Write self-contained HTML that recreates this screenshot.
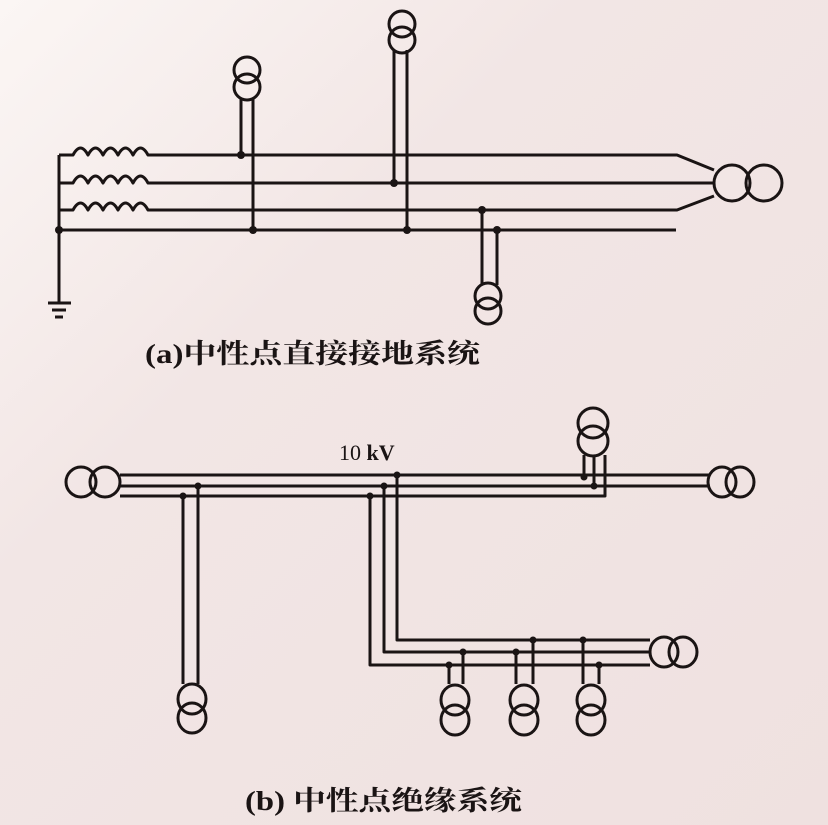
<!DOCTYPE html>
<html><head><meta charset="utf-8"><style>
html,body{margin:0;padding:0;}
body{width:828px;height:825px;background:#f1e4e3;overflow:hidden;}
svg{display:block}
text{fill:#1a1414}
</style></head><body>
<svg width="828" height="825" viewBox="0 0 828 825" xmlns="http://www.w3.org/2000/svg">
<defs>
<linearGradient id="bg" x1="0" y1="0" x2="1" y2="1">
<stop offset="0" stop-color="#fbf6f4"/><stop offset="0.35" stop-color="#f2e6e5"/><stop offset="1" stop-color="#efe1e0"/>
</linearGradient>
</defs>
<rect width="828" height="825" fill="url(#bg)"/>
<g stroke="#1a1414" stroke-width="3" fill="none" stroke-linejoin="round">
<!-- (a) -->
<path d="M59,155 V303"/>
<path d="M59,155 H73 q7.5,-14 15,0 q7.5,-14 15,0 q7.5,-14 15,0 q7.5,-14 15,0 q7.5,-14 15,0 H677 L714,170"/>
<path d="M59,183 H73 q7.5,-14 15,0 q7.5,-14 15,0 q7.5,-14 15,0 q7.5,-14 15,0 q7.5,-14 15,0 H714"/>
<path d="M59,210 H73 q7.5,-14 15,0 q7.5,-14 15,0 q7.5,-14 15,0 q7.5,-14 15,0 q7.5,-14 15,0 H677 L714,196"/>
<path d="M59,230 H676"/>
<path d="M48,303 H71 M52,310 H66 M55,317 H63"/>
<ellipse cx="732" cy="183" rx="18" ry="18" fill="#f2e6e5"/>
<ellipse cx="764" cy="183" rx="18" ry="18"/>
<!-- T1 -->
<path d="M241,155 V98 M253,230 V98"/>
<ellipse cx="247" cy="70" rx="13" ry="13"/>
<ellipse cx="247" cy="87" rx="13" ry="13"/>
<!-- T2 -->
<path d="M394,183 V50 M407,230 V50"/>
<ellipse cx="402" cy="24" rx="13" ry="13"/>
<ellipse cx="402" cy="40" rx="13" ry="13"/>
<!-- T3 -->
<path d="M482,210 V285 M497,230 V285"/>
<ellipse cx="488" cy="296" rx="13" ry="13"/>
<ellipse cx="488" cy="311" rx="13" ry="13"/>
<!-- (b) -->
<ellipse cx="81" cy="482" rx="15" ry="15"/>
<ellipse cx="105" cy="482" rx="15" ry="15"/>
<path d="M120,475 H710 M120,486 H710 M120,496 H605 V455 M584,475 V455 M594,486 V455"/>
<ellipse cx="593" cy="423" rx="15" ry="15"/>
<ellipse cx="593" cy="441" rx="15" ry="15"/>
<ellipse cx="722" cy="482" rx="14" ry="15"/>
<ellipse cx="740" cy="482" rx="14" ry="15"/>
<path d="M183,496 V684 M198,486 V684"/>
<ellipse cx="192" cy="699" rx="14" ry="15"/>
<ellipse cx="192" cy="718" rx="14" ry="15"/>
<path d="M397,475 V640 H650 M384,486 V652 H650 M370,496 V665 H650"/>
<ellipse cx="664" cy="652" rx="14" ry="15"/>
<ellipse cx="683" cy="652" rx="14" ry="15"/>
<path d="M449,665 V684 M463,652 V684 M516,652 V684 M533,640 V684 M583,640 V684 M599,665 V684"/>
<ellipse cx="455" cy="700" rx="14" ry="15"/>
<ellipse cx="455" cy="720" rx="14" ry="15"/>
<ellipse cx="524" cy="700" rx="14" ry="15"/>
<ellipse cx="524" cy="720" rx="14" ry="15"/>
<ellipse cx="591" cy="700" rx="14" ry="15"/>
<ellipse cx="591" cy="720" rx="14" ry="15"/>
</g>
<g fill="#1a1414">
<circle cx="59" cy="230" r="4"/>
<circle cx="241" cy="155" r="4"/><circle cx="253" cy="230" r="4"/>
<circle cx="394" cy="183" r="4"/><circle cx="407" cy="230" r="4"/>
<circle cx="482" cy="210" r="4"/><circle cx="497" cy="230" r="4"/>
<circle cx="584" cy="477" r="3.5"/><circle cx="594" cy="486" r="3.5"/>
<circle cx="183" cy="496" r="3.5"/><circle cx="198" cy="486" r="3.5"/>
<circle cx="397" cy="475" r="3.5"/><circle cx="384" cy="486" r="3.5"/><circle cx="370" cy="496" r="3.5"/>
<circle cx="449" cy="665" r="3.5"/><circle cx="463" cy="652" r="3.5"/>
<circle cx="516" cy="652" r="3.5"/><circle cx="533" cy="640" r="3.5"/>
<circle cx="583" cy="640" r="3.5"/><circle cx="599" cy="665" r="3.5"/>
</g>
<text x="145" y="363" style="font-family:'Liberation Serif','Noto Serif CJK SC',serif;font-size:27px;font-weight:bold" textLength="335" lengthAdjust="spacingAndGlyphs">(a)中性点直接接地系统</text>
<text x="339" y="460" style="font-family:'Liberation Serif',serif;font-size:22px">10 <tspan font-weight="bold">kV</tspan></text>
<text x="245" y="810" style="font-family:'Liberation Serif','Noto Serif CJK SC',serif;font-size:27px;font-weight:bold" textLength="277" lengthAdjust="spacingAndGlyphs">(b) 中性点绝缘系统</text>
</svg>
</body></html>
